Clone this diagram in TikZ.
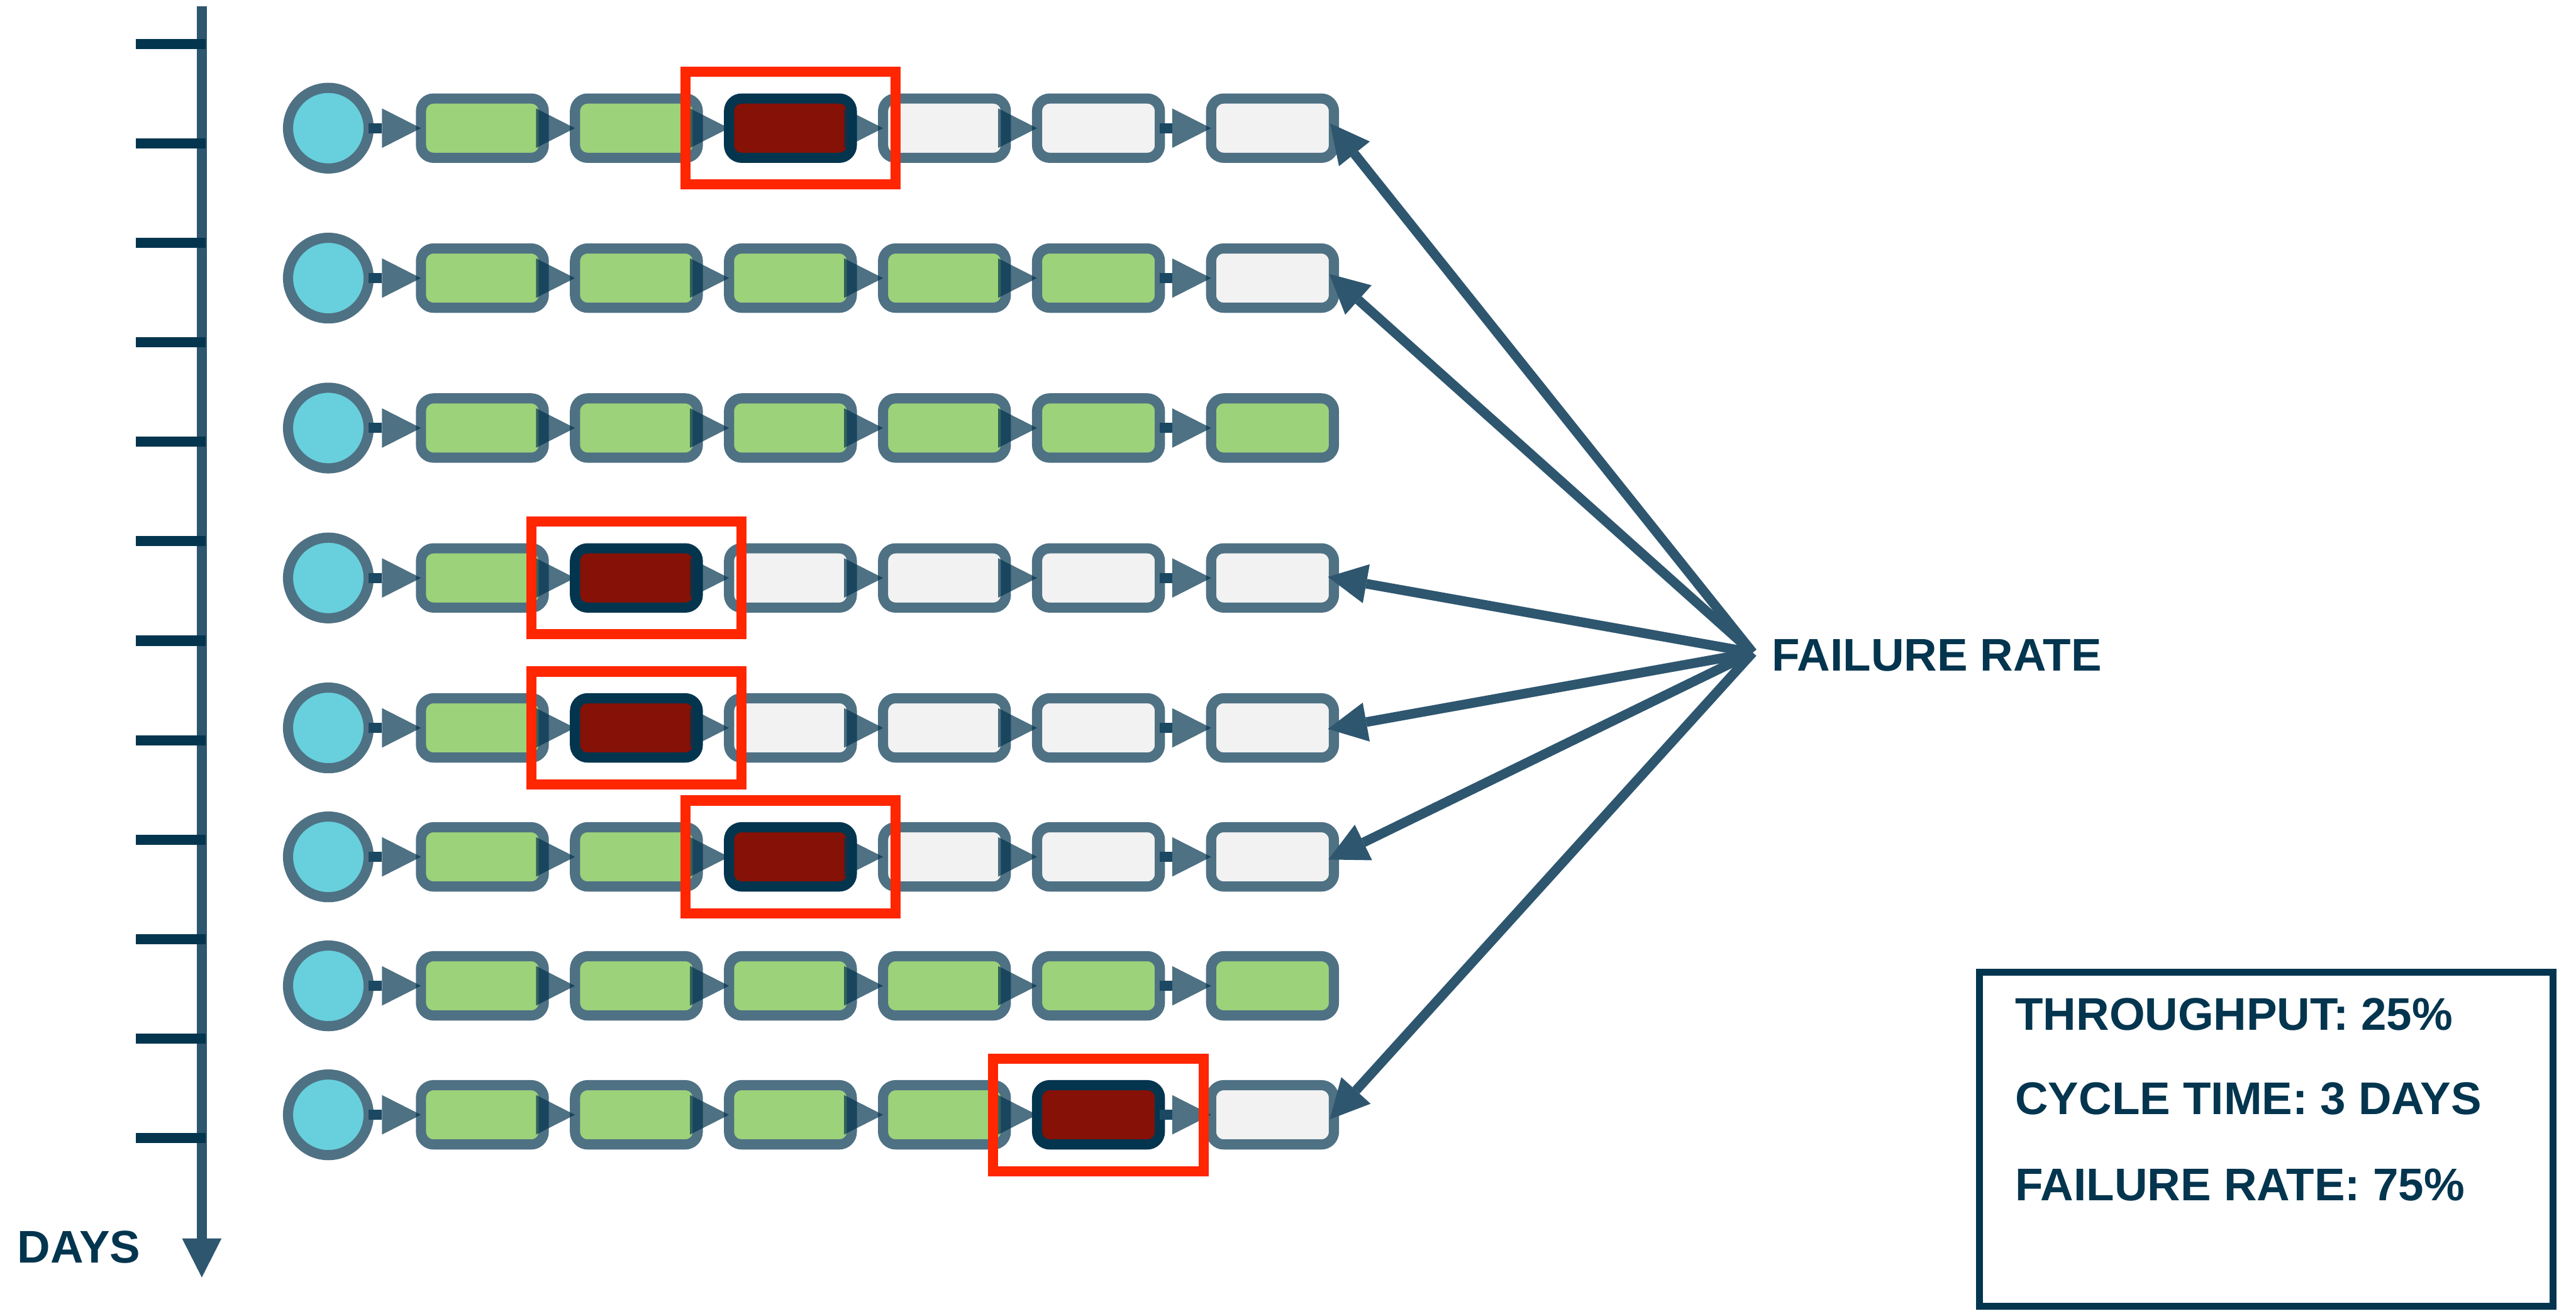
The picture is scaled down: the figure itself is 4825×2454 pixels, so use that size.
\documentclass[tikz,border=0pt]{standalone}
\usepackage{fontspec}
\setmainfont{Liberation Sans}
\usetikzlibrary{arrows.meta,calc}

\definecolor{navy}{HTML}{03354F}
\definecolor{slate}{HTML}{4F7184}
\definecolor{steel}{HTML}{2E566F}
\definecolor{shaftc}{HTML}{1B4862}
\definecolor{startc}{HTML}{67D0DC}
\definecolor{donec}{HTML}{9CD27A}
\definecolor{todoc}{HTML}{F2F2F2}
\definecolor{failc}{HTML}{861106}
\definecolor{markc}{HTML}{FF2600}

\tikzset{
  stage/.style={draw=slate, line width=1.9mm, rounded corners=2.35mm,
    minimum width=2.3cm, minimum height=1.11cm, inner sep=0pt, outer sep=0pt},
  done/.style={stage, fill=donec},
  todo/.style={stage, fill=todoc},
  failed/.style={stage, draw=navy, fill=failc},
  start/.style={circle, draw=slate, fill=startc, line width=1.9mm,
    minimum size=1.51cm, inner sep=0pt, outer sep=0pt},
  marker/.style={draw=markc, line width=1.9mm, minimum width=3.94cm,
    minimum height=2.11cm, inner sep=0pt, outer sep=0pt},
  headfill/.style={fill=navy, fill opacity=0.7},
  shaft/.style={fill=shaftc},
  label/.style={font=\bfseries\fontsize{24.4}{29}\selectfont, text=navy,
    inner sep=0pt, anchor=base west},
  pointer/.style={draw=steel, line width=1.8mm,
    -{Triangle[length=7.3mm,width=7.4mm,line width=0pt]}},
  axisline/.style={draw=steel, line width=1.9mm,
    -{Triangle[length=7.3mm,width=7.4mm,line width=0pt]}},
  tickline/.style={draw=navy, line width=1.9mm},
  statbox/.style={draw=navy, line width=1.3mm, minimum width=10.74cm,
    minimum height=6.25cm, inner sep=0pt, outer sep=0pt},
}

% arrow head ending on the left side of a stage
\newcommand\flowhead[1]{%
  \fill[headfill] ($(#1.west)+(-73,-37)$) -- (#1.west) -- ($(#1.west)+(-73,37)$) -- cycle;}
% visible shaft between two stages that sit further apart
\newcommand\flowshaft[2]{%
  \fill[shaft] ($(#1.east)+(0,-9.5)$) rectangle ($(#2.west)+(-73,9.5)$);}

\begin{document}
\begin{tikzpicture}[x=0.1mm, y=-0.1mm]
\useasboundingbox (0,0) rectangle (4825,2454);

\def\colx{{903.5,1192,1480.5,1769,2057.5,2383.5}}

% time axis
\coordinate (axtop) at (378,12);
\coordinate (axend) at (378,2392);
\draw[axisline] (axtop) -- (axend);
\foreach \k in {0,...,11}
  \draw[tickline] (254,{82+186.3*\k}) -- (385,{82+186.3*\k});
\node[label] (days) at (32,2365) {DAYS};

% pipelines, one per row
\foreach \ro/\y/\kinds in {
    1/240/{done,done,failed,todo,todo,todo},
    2/520.75/{done,done,done,done,done,todo},
    3/801.5/{done,done,done,done,done,done},
    4/1082.25/{done,failed,todo,todo,todo,todo},
    5/1363/{done,failed,todo,todo,todo,todo},
    6/1604.5/{done,done,failed,todo,todo,todo},
    7/1846/{done,done,done,done,done,done},
    8/2087.5/{done,done,done,done,failed,todo}} {
  \node[start] (s\ro) at (615,\y) {};
  \foreach \k [count=\c] in \kinds {
    \pgfmathsetmacro\xx{\colx[\c-1]}
    \node[\k] (r\ro c\c) at (\xx,\y) {};
  }
  \flowshaft{s\ro}{r\ro c1}
  \flowhead{r\ro c1}
  \foreach \c in {2,...,6} { \flowhead{r\ro c\c} }
  \flowshaft{r\ro c5}{r\ro c6}
}

% failed stages
\node[marker] (m1) at (r1c3) {};
\node[marker] (m4) at (r4c2) {};
\node[marker] (m5) at (r5c2) {};
\node[marker] (m6) at (r6c3) {};
\node[marker] (m8) at (r8c5) {};

% failure rate pointers
\node[label] (fail) at (3318,1256) {FAILURE RATE};
\coordinate (fr) at (3283,1222);
\foreach \ro in {1,2,4,5,6,8}
  \draw[pointer, shorten >=-1.15mm] (fr) -- (r\ro c6.east);

% summary
\node[statbox] (stats) at (4244.5,2133) {};
\node[label] (tp) at (3774,1929) {THROUGHPUT: 25\%};
\node[label] (ct) at (3774,2087) {CYCLE TIME: 3 DAYS};
\node[label] (fl) at (3774,2248) {FAILURE RATE: 75\%};
\end{tikzpicture}
\end{document}
